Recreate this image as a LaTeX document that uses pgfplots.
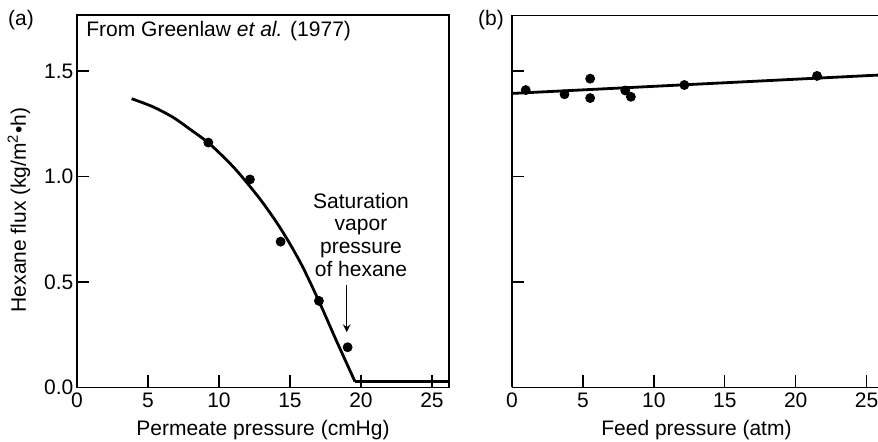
\documentclass[border=0pt]{standalone}
\usepackage{fontspec}
\setmainfont{Liberation Sans}
\usepackage{pgfplots}
\pgfplotsset{compat=1.18}
\begin{document}
\fontsize{10.5}{12.6}\selectfont
\begin{tikzpicture}
\useasboundingbox (0,0) rectangle (439pt,220.5pt);
\pgfplotsset{
  common/.style={
    scale only axis,
    anchor=south west,
    ymin=0, ymax=1.766,
    xmin=0,
    height=186.15pt,
    xtick={0,5,10,15,20,25},
    ytick={0,0.5,1,1.5},
    tick align=inside,
    major tick length=6pt,
    xtick pos=bottom, ytick pos=left,
    axis line style={line width=0.8pt},
    every tick/.style={line width=0.7pt, black},
    /pgf/number format/assume math mode=true,
    tick label style={font=\fontsize{10.5}{12.6}\selectfont},
    label style={font=\fontsize{10.5}{12.6}\selectfont},
    xticklabel style={inner ysep=2.6pt},
    yticklabel style={inner xsep=1.6pt},
  },
}
% ---------------- (a) ----------------
\begin{axis}[common,
  at={(38.5pt,26.85pt)},
  width=186pt,
  xmax=26.2,
  yticklabel style={/pgf/number format/.cd, fixed, fixed zerofill, precision=1},
  xlabel={Permeate pressure (cmHg)},
  ylabel={Hexane flux (kg/m\textsuperscript{2}•h)},
  xlabel style={at={(rel axis cs:0.5,-0.130)}, anchor=base},
  ylabel style={at={(rel axis cs:-0.156,0.476)}, anchor=center, rotate=0},
]
\addplot[black, line width=1.4pt, smooth, tension=0.5] coordinates {
(3.85,1.369) (5.37,1.330) (6.78,1.280) (7.96,1.224) (9.25,1.160) (10.54,1.078)
(11.48,1.010) (12.89,0.893) (14.06,0.782) (15.0,0.680) (15.94,0.565)
(17.11,0.398) (18.29,0.218) (19.58,0.027)
};
\addplot[black, line width=1.4pt] coordinates {(19.58,0.027) (26.2,0.027)};
\addplot[only marks, mark=*, mark size=2.25pt, black] coordinates {
(9.25,1.161) (12.18,0.986) (14.34,0.691) (17.04,0.410) (19.06,0.190)
};
\draw[-stealth, line width=0.7pt] (axis cs:19.0,0.487) -- (axis cs:19.0,0.262);
\end{axis}
% ---------------- (b) ----------------
\begin{axis}[common,
  at={(256pt,26.85pt)},
  width=183pt,
  xmax=25.8,
  axis x line*=bottom, axis y line*=left,
  yticklabels={},
  ytick={0.5,1,1.5},
  xlabel={Feed pressure (atm)},
  xlabel style={at={(rel axis cs:0.504,-0.130)}, anchor=base},
]
\addplot[black, line width=1.4pt] coordinates {(0,1.394) (25.8,1.481)};
\addplot[only marks, mark=*, mark size=2.25pt, black] coordinates {
(0.97,1.41) (3.70,1.39) (5.51,1.464) (5.51,1.372) (7.98,1.408) (8.38,1.378)
(12.15,1.434) (21.5,1.477)
};
\draw[line width=0.8pt] (rel axis cs:0,1) -- (rel axis cs:1,1);
\end{axis}
% ---------------- texts ----------------
\node[anchor=center] at (10.5pt,210.3pt) {(a)};
\node[anchor=center] at (245.5pt,210.5pt) {(b)};
\node[anchor=base west, inner sep=0pt] at (43pt,202.5pt) {From Greenlaw \textit{et al.} (1977)};
\node[anchor=base, inner sep=0pt] at (180.5pt,116.5pt) {Saturation};
\node[anchor=base, inner sep=0pt] at (180.5pt,105.3pt) {vapor};
\node[anchor=base, inner sep=0pt] at (180.5pt,94pt) {pressure};
\node[anchor=base, inner sep=0pt] at (180.5pt,82.5pt) {of hexane};
\end{tikzpicture}
\end{document}
